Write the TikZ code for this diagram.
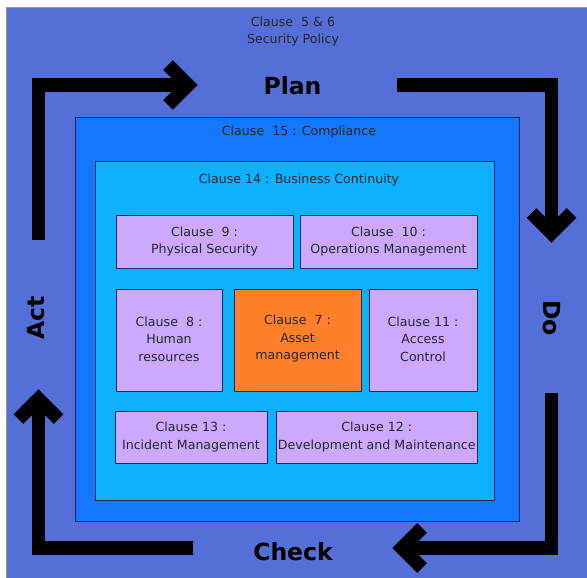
\documentclass[tikz,border=0pt]{standalone}
\usepackage{fontspec}
\setmainfont{DejaVu Sans}
\definecolor{policyblue}{HTML}{5470D8}
\definecolor{compliblue}{HTML}{1478FF}
\definecolor{contblue}{HTML}{0DB1FF}
\definecolor{lavender}{HTML}{CCA9FF}
\definecolor{assetorange}{HTML}{FF7F2A}
\definecolor{boxline}{HTML}{1E2A55}
\definecolor{labeltext}{HTML}{262626}
\begin{document}
\begin{tikzpicture}[x=1pt,y=-1pt,
  textfont/.style={font=\fontsize{12.6}{17.5}\selectfont, text=labeltext},
  area/.style={draw=boxline, line width=0.7pt, inner sep=0pt},
  clause/.style={area, textfont, align=center, fill=lavender},
  caption/.style={textfont, align=center, inner sep=0pt},
  cyclearrow/.style={draw=black, line width=13.5pt, line join=miter},
  phase/.style={font=\fontsize{23.5}{28}\selectfont\bfseries, text=black, inner sep=0pt}
]
\useasboundingbox (0,0) rectangle (587,578);

% ISMS background: security policy
\fill[policyblue, draw=black!40, line width=0.8pt] (6.5,7.5) rectangle (592,583);
\node[caption] (policy) at (293,31.5) {Clause~ 5 \& 6\\Security Policy};

% nested clause areas
\node[area, fill=compliblue, minimum width=444pt, minimum height=404pt] (compliance) at (297,319) {};
\node[caption] (complianceLabel) at (299,132) {Clause~ 15 : Compliance};
\node[area, fill=contblue, minimum width=398.5pt, minimum height=339.5pt] (continuity) at (294.75,330.75) {};
\node[caption] (continuityLabel) at (299,180) {Clause 14 : Business Continuity};

% individual clauses
\node[clause, minimum width=177pt, minimum height=53pt] (c9) at (204.5,241.5) {Clause~ 9 :\\Physical Security};
\node[clause, minimum width=177pt, minimum height=53pt] (c10) at (388.5,241.5) {Clause~ 10 :\\Operations Management};
\node[clause, minimum width=106pt, minimum height=102pt] (c8) at (169,340.5) {Clause~ 8 :\\Human\\resources\vspace{3pt}};
\node[clause, fill=assetorange, minimum width=127pt, minimum height=102pt] (c7) at (297.5,340.5) {Clause~ 7 :\\Asset\\management\vspace{3pt}};
\node[clause, minimum width=108pt, minimum height=102pt] (c11) at (423,340.5) {Clause 11 :\\Access\\Control\vspace{3pt}};
\node[clause, minimum width=152pt, minimum height=52pt] (c13) at (191,437) {Clause 13 :\\Incident Management};
\node[clause, minimum width=201.5pt, minimum height=52pt] (c12) at (376.75,437) {Clause 12 :\\Development and Maintenance};

% PDCA cycle labels
\node[phase] (plan) at (292.5,86) {Plan};
\node[phase] (check) at (293,552) {Check};
\node[phase, rotate=90] (act) at (36,318) {Act};
\node[phase, rotate=-90] (do) at (552,318) {Do};

% PDCA cycle arrows
\coordinate (actStart) at (38.5,240);
\coordinate (actCorner) at (38.5,85);
\coordinate (planTip) at (188,85);
\draw[cyclearrow] (actStart) -- (actCorner) -- (planTip);
\draw[cyclearrow] (planTip) ++(-20,-20) -- (planTip) -- ++(-20,20);

\coordinate (planStart) at (397,85);
\coordinate (planCorner) at (551.5,85);
\coordinate (doTip) at (551.5,233);
\draw[cyclearrow] (planStart) -- (planCorner) -- (doTip);
\draw[cyclearrow] (doTip) ++(-20,-20) -- (doTip) -- ++(20,-20);

\coordinate (doStart) at (551.5,393);
\coordinate (doCorner) at (551.5,548);
\coordinate (checkTip) at (402,548);
\draw[cyclearrow] (doStart) -- (doCorner) -- (checkTip);
\draw[cyclearrow] (checkTip) ++(20,-20) -- (checkTip) -- ++(20,20);

\coordinate (checkStart) at (193,548);
\coordinate (checkCorner) at (38.5,548);
\coordinate (actTip) at (38.5,399);
\draw[cyclearrow] (checkStart) -- (checkCorner) -- (actTip);
\draw[cyclearrow] (actTip) ++(-20,20) -- (actTip) -- ++(20,20);
\end{tikzpicture}
\end{document}
